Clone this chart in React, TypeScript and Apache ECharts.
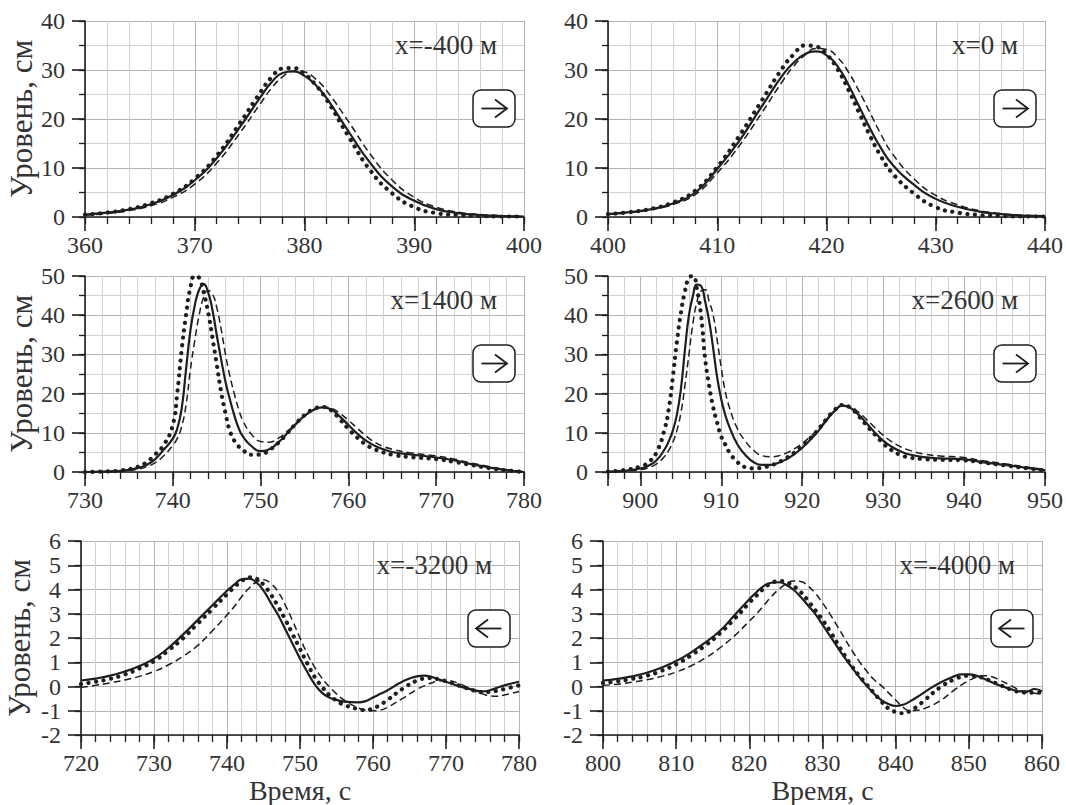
import React, { useEffect, useRef } from 'react';
import * as echarts from 'echarts';

// ---------- Panel 1: x = -400 м ----------
const p1Time = [360, 362, 364, 366, 368, 370, 372, 374, 376, 377, 378, 379, 380, 381, 382, 384, 386, 388, 390, 392, 394, 396, 398, 400];
const p1Solid = [0.5, 0.9, 1.5, 2.6, 4.5, 7.5, 12, 18, 24.5, 27.5, 29.4, 29.7, 28.8, 27, 24.3, 17.5, 11, 6.2, 3.3, 1.6, 0.8, 0.4, 0.2, 0.1];
const p1Dot = [0.5, 0.9, 1.6, 2.8, 4.7, 7.8, 12.5, 18.8, 25.5, 28.5, 30.3, 30.4, 29.2, 27, 24, 16.5, 9.5, 4.8, 2, 0.8, 0.4, 0.2, 0.1, 0.1];
const p1Dash = [0.4, 0.7, 1.3, 2.3, 4.0, 6.7, 11, 16.8, 23.2, 26.3, 28.6, 29.8, 29.6, 28.2, 25.8, 19.5, 12.8, 7.5, 4.0, 2.0, 1.0, 0.5, 0.25, 0.1];

// ---------- Panel 2: x = 0 м ----------
const p2Time = [400, 402, 404, 406, 408, 410, 412, 414, 416, 417, 418, 419, 420, 421, 422, 423, 424, 425, 426, 428, 430, 432, 434, 436, 438, 440];
const p2Solid = [0.6, 1.0, 1.6, 2.8, 5.0, 9.8, 15.5, 22.3, 29.0, 31.5, 33.2, 33.8, 33.0, 30.8, 27.0, 22.5, 18.0, 14.0, 10.8, 6.6, 3.7, 2.1, 1.1, 0.6, 0.3, 0.2];
const p2Dot = [0.6, 1.0, 1.7, 3.0, 5.4, 10.2, 16.5, 23.5, 30.5, 33.2, 35.0, 34.8, 33.2, 30.2, 26.0, 21.2, 16.5, 12.3, 9.0, 4.8, 2.0, 0.9, 0.4, 0.2, 0.1, 0.1];
const p2Dash = [0.5, 0.9, 1.5, 2.6, 4.6, 9.0, 14.5, 21.0, 27.8, 30.8, 33.0, 34.4, 34.2, 32.6, 29.6, 25.6, 21.2, 16.8, 13.0, 7.8, 4.4, 2.5, 1.3, 0.7, 0.35, 0.2];

// ---------- Panel 3: x = 1400 м ----------
const p3Time = [730, 732, 734, 736, 737, 738, 739, 740,
  740.5, 741, 741.5, 742, 742.5, 743, 743.5, 744, 744.5, 745, 745.5, 746, 746.5, 747, 747.5, 748,
  749, 750, 751, 752, 753, 754, 755, 756, 757, 758, 759, 760, 761, 762, 763, 764, 765,
  767, 770, 772, 774, 776, 778, 780];
const p3Solid = [0, 0.1, 0.3, 1.0, 1.8, 3.3, 5.8, 8.5,
  11, 16, 26, 36, 42.5, 46.5, 48, 46, 41.5, 35, 28.8, 23, 18.5, 14.5, 11.2, 9,
  6.5, 5.3, 5.8, 7.5, 9.8, 12.2, 14.3, 15.8, 16.5, 16, 14.2, 12, 9.8, 8, 6.7, 5.8, 5.1,
  4.5, 3.7, 3, 2, 1.2, 0.5, 0];
const p3Dot = [0, 0.1, 0.4, 1.3, 2.5, 4.5, 7, 12,
  20, 31, 40, 47, 50, 49.5, 46, 41, 34.5, 27.5, 20.5, 15, 10.5, 8, 6.5, 5.5,
  4.4, 4.5, 5.6, 7.4, 9.8, 12.3, 14.5, 16, 16.6, 15.8, 13.5, 11, 8.8, 7, 5.8, 5, 4.4,
  3.8, 3.3, 2.6, 1.8, 1.0, 0.4, 0];
const p3Dash = [0, 0.1, 0.2, 0.7, 1.3, 2.4, 4.2, 6.8,
  8.5, 11.5, 17, 26, 33.5, 40, 44.5, 46.3, 45.5, 42, 36.5, 30, 24.5, 20, 16, 13,
  9.5, 7.8, 7.6, 8.6, 10.3, 12.3, 14.3, 15.8, 16.6, 16.3, 15, 13.2, 11.2, 9.2, 7.6, 6.5, 5.8,
  4.9, 4.1, 3.3, 2.3, 1.4, 0.6, 0.1];

// ---------- Panel 4: x = 2600 м ----------
const p4Time = [896, 898, 900, 901, 902, 903,
  903.5, 904, 904.5, 905, 905.5, 906, 906.5, 907, 907.5, 908, 908.5, 909, 909.5, 910, 910.5,
  911, 912, 913, 914, 915, 916, 917, 918, 919, 920, 921, 922, 923, 924, 925, 926, 927, 928, 929, 930, 931, 932, 933,
  935, 937, 940, 942, 945, 948, 950];
const p4Solid = [0.1, 0.3, 0.9, 1.6, 3.0, 5.8,
  7.8, 10.5, 14.5, 21, 31, 40, 45, 47.8, 47.5, 43.5, 38.5, 31.5, 24, 18.5, 14.5,
  11.5, 7, 4.3, 2.5, 1.8, 1.8, 2.3, 3.2, 4.5, 6.2, 8.2, 10.5, 13.2, 15.6, 17, 16.3, 14.5, 12.3, 10, 8, 6.5, 5.4, 4.6,
  3.8, 3.5, 3.2, 2.6, 1.8, 1.0, 0.5];
const p4Dot = [0.1, 0.5, 1.4, 2.5, 5, 11,
  16, 24, 33, 40.5, 46, 49.5, 50, 46.5, 40, 29, 22, 16.5, 12.5, 9, 7,
  5, 2.5, 1.2, 0.9, 1.1, 1.6, 2.4, 3.5, 4.9, 6.6, 8.6, 10.9, 13.5, 15.8, 17.1, 16.3, 14.2, 11.8, 9.5, 7.3, 5.6, 4.5, 3.8,
  3.3, 3.1, 3.0, 2.5, 1.7, 0.9, 0.4];
const p4Dash = [0.05, 0.2, 0.6, 1.1, 2.1, 4,
  5.5, 7.5, 10.5, 15, 22, 30, 38, 43.5, 46.2, 46.5, 43.5, 40, 33.5, 26.5, 20.5,
  16.5, 11, 7.8, 5.5, 4.2, 3.9, 4.1, 4.8, 5.9, 7.3, 9, 11, 13.3, 15.5, 16.8, 16.5, 15.2, 13.3, 11.3, 9.4, 7.8, 6.6, 5.7,
  4.6, 4.1, 3.7, 3, 2.1, 1.2, 0.6];

// ---------- Panel 5: x = -3200 м ----------
const p5Time = [720, 722, 724, 726, 728, 730, 732, 734, 736, 738, 740,
  741, 742, 743, 744, 745, 746, 747, 748, 749, 750, 751, 752, 753, 754, 755, 756,
  758, 759, 760, 761, 762,
  764, 766, 767, 768, 769, 770,
  772, 774, 775, 776, 777, 778, 780];
const p5Solid = [0.25, 0.33, 0.45, 0.62, 0.85, 1.15, 1.6, 2.15, 2.75, 3.35, 3.95,
  4.2, 4.42, 4.45, 4.3, 3.95, 3.45, 2.95, 2.35, 1.75, 1.15, 0.6, 0.1, -0.25, -0.45, -0.55, -0.62,
  -0.65, -0.6, -0.45, -0.3, -0.15,
  0.2, 0.42, 0.45, 0.4, 0.3, 0.2,
  0, -0.15, -0.2, -0.15, -0.05, 0.05, 0.2];
const p5Dot = [0.1, 0.2, 0.32, 0.5, 0.75, 1.05, 1.5, 2.0, 2.6, 3.2, 3.8,
  4.1, 4.35, 4.5, 4.45, 4.2, 3.8, 3.3, 2.75, 2.15, 1.55, 0.95, 0.4, 0, -0.35, -0.58, -0.75,
  -0.93, -0.97, -0.9, -0.75, -0.55,
  -0.1, 0.25, 0.33, 0.35, 0.3, 0.22,
  0.02, -0.18, -0.23, -0.22, -0.17, -0.1, 0.05];
const p5Dash = [-0.03, 0.05, 0.15, 0.27, 0.42, 0.62, 0.9, 1.25, 1.7, 2.3, 2.95,
  3.3, 3.7, 4.05, 4.3, 4.4, 4.25, 3.9, 3.35, 2.7, 2.0, 1.35, 0.8, 0.35, 0, -0.3, -0.55,
  -0.88, -0.97, -1.0, -0.97, -0.85,
  -0.5, -0.12, 0.03, 0.15, 0.23, 0.25,
  0.1, -0.2, -0.3, -0.38, -0.4, -0.35, -0.2];

// ---------- Panel 6: x = -4000 м ----------
const p6Time = [800, 802, 804, 806, 808, 810, 812, 814, 816, 818, 820,
  821, 822, 823, 824, 825, 826, 827, 828, 829, 830, 831, 832, 833, 834, 835, 836, 837, 838, 839, 840, 841, 842, 843, 844,
  846, 848,
  849, 850, 851, 852, 853, 854,
  856, 857, 858, 859, 860];
const p6Solid = [0.25, 0.32, 0.42, 0.57, 0.78, 1.05, 1.4, 1.82, 2.3, 2.95, 3.6,
  3.9, 4.15, 4.28, 4.3, 4.2, 4.0, 3.7, 3.35, 3.0, 2.55, 2.1, 1.65, 1.2, 0.8, 0.4, 0.05, -0.28, -0.55, -0.72, -0.8, -0.75, -0.6, -0.42, -0.22,
  0.15, 0.42,
  0.5, 0.5, 0.45, 0.33, 0.2, 0.07,
  -0.13, -0.2, -0.2, -0.1, -0.2];
const p6Dot = [0.15, 0.22, 0.32, 0.45, 0.65, 0.92, 1.28, 1.7, 2.2, 2.8, 3.45,
  3.75, 4.05, 4.25, 4.35, 4.3, 4.15, 3.9, 3.55, 3.15, 2.75, 2.3, 1.8, 1.3, 0.85, 0.45, 0.1, -0.25, -0.6, -0.9, -1.05, -1.1, -1.0, -0.8, -0.55,
  -0.05, 0.3,
  0.4, 0.45, 0.43, 0.35, 0.23, 0.1,
  -0.15, -0.22, -0.25, -0.25, -0.25];
const p6Dash = [0.05, 0.1, 0.18, 0.28, 0.42, 0.6, 0.85, 1.18, 1.6, 2.1, 2.7,
  3.0, 3.35, 3.7, 4.0, 4.22, 4.35, 4.33, 4.15, 3.85, 3.45, 3.0, 2.5, 2.0, 1.5, 1.05, 0.65, 0.3, 0.05, -0.25, -0.55, -0.85, -1.0, -0.98, -0.9,
  -0.6, -0.15,
  0.07, 0.25, 0.38, 0.45, 0.42, 0.3,
  0.0, -0.15, -0.25, -0.28, -0.3];

// Panel titles and axis texts
const panelLabels = ['x=-400 м', 'x=0 м', 'x=1400 м', 'x=2600 м', 'x=-3200 м', 'x=-4000 м'];
const yTitle = 'Уровень, см';
const xTitle = 'Время, с';

const FONT = "'Liberation Serif', 'Times New Roman', serif";
const INK = '#1e1e1e';
const TXT = '#333';
const GRID_MINOR = '#d2d2d2';
const GRID_MAJOR = '#b4b4b4';

type Panel = {
  t: number[]; s: number[]; d: number[]; k: number[];
  x: [number, number]; y: [number, number]; yStep: [number, number];
  label: string; dir: 'right' | 'left';
  box: { left: number; top: number; width: number; height: number };
  yName: boolean; xName: boolean;
};

const panels: Panel[] = [
  { t: p1Time, s: p1Solid, d: p1Dot, k: p1Dash, x: [360, 400], y: [0, 40], yStep: [5, 10], label: panelLabels[0], dir: 'right', box: { left: 85, top: 21, width: 439, height: 196 }, yName: true, xName: false },
  { t: p2Time, s: p2Solid, d: p2Dot, k: p2Dash, x: [400, 440], y: [0, 40], yStep: [5, 10], label: panelLabels[1], dir: 'right', box: { left: 608, top: 21, width: 437, height: 196 }, yName: false, xName: false },
  { t: p3Time, s: p3Solid, d: p3Dot, k: p3Dash, x: [730, 780], y: [0, 50], yStep: [5, 10], label: panelLabels[2], dir: 'right', box: { left: 85, top: 276, width: 439, height: 196 }, yName: true, xName: false },
  { t: p4Time, s: p4Solid, d: p4Dot, k: p4Dash, x: [896, 950], y: [0, 50], yStep: [5, 10], label: panelLabels[3], dir: 'right', box: { left: 608, top: 276, width: 437, height: 196 }, yName: false, xName: false },
  { t: p5Time, s: p5Solid, d: p5Dot, k: p5Dash, x: [720, 780], y: [-2, 6], yStep: [1, 1], label: panelLabels[4], dir: 'left', box: { left: 81, top: 541, width: 438, height: 196 }, yName: true, xName: true },
  { t: p6Time, s: p6Solid, d: p6Dot, k: p6Dash, x: [800, 860], y: [-2, 6], yStep: [1, 1], label: panelLabels[5], dir: 'left', box: { left: 603, top: 541, width: 439, height: 196 }, yName: false, xName: true },
];

function buildOption() {
  const grid: any[] = [];
  const xAxis: any[] = [];
  const yAxis: any[] = [];
  const series: any[] = [];
  const graphic: any[] = [];

  panels.forEach((p, i) => {
    grid.push({ left: p.box.left, top: p.box.top, width: p.box.width, height: p.box.height, containLabel: false });

    const majors: number[] = [];
    for (let v = Math.ceil(p.x[0] / 10) * 10; v <= p.x[1] + 1e-9; v += 10) majors.push(v);
    const tickVals = majors[0] > p.x[0] ? [p.x[0], ...majors] : majors;

    const xBase = { type: 'value', gridIndex: i, min: p.x[0], max: p.x[1], position: 'bottom', offset: 0 };
    // minor ticks + minor grid
    xAxis.push({ ...xBase, interval: 2, z: 1,
      axisLine: { show: false, onZero: false },
      axisTick: { show: true, length: 7, lineStyle: { color: INK, width: 1.3 } },
      axisLabel: { show: false }, splitLine: { show: true, lineStyle: { color: GRID_MINOR, width: 1 } } });
    // major grid
    xAxis.push({ ...xBase, interval: 2, z: 1,
      axisLine: { show: false, onZero: false },
      axisTick: { show: false, customValues: majors },
      axisLabel: { show: false, customValues: majors },
      splitLine: { show: true, lineStyle: { color: GRID_MAJOR, width: 1 } } });
    // axis line, long ticks, labels
    xAxis.push({ ...xBase, interval: 2, z: 3,
      axisLine: { show: true, onZero: false, lineStyle: { color: INK, width: 1.6 } },
      axisTick: { show: true, length: 14, customValues: tickVals, lineStyle: { color: INK, width: 1.6 } },
      axisLabel: { show: true, margin: 16, fontSize: 24, fontFamily: FONT, color: TXT, customValues: majors,
        formatter: (v: number) => String(v) },
      splitLine: { show: false },
      name: p.xName ? xTitle : '', nameLocation: 'middle', nameGap: 40,
      nameTextStyle: { fontSize: 28, fontFamily: FONT, color: TXT } });

    const yBase = { type: 'value', gridIndex: i, min: p.y[0], max: p.y[1], position: 'left', offset: 0 };
    yAxis.push({ ...yBase, interval: p.yStep[0], z: 1,
      axisLine: { show: false, onZero: false },
      axisTick: { show: true, length: 6, lineStyle: { color: INK, width: 1.3 } },
      axisLabel: { show: false }, splitLine: { show: true, lineStyle: { color: GRID_MINOR, width: 1 } } });
    yAxis.push({ ...yBase, interval: p.yStep[1], z: 1,
      axisLine: { show: false, onZero: false }, axisTick: { show: false }, axisLabel: { show: false },
      splitLine: { show: true, lineStyle: { color: GRID_MAJOR, width: 1 } } });
    yAxis.push({ ...yBase, interval: p.yStep[1], z: 3,
      axisLine: { show: true, onZero: false, lineStyle: { color: INK, width: 1.6 } },
      axisTick: { show: true, length: 13, lineStyle: { color: INK, width: 1.6 } },
      axisLabel: { show: true, margin: 20, fontSize: 24, fontFamily: FONT, color: TXT },
      splitLine: { show: false },
      name: p.yName ? yTitle : '', nameLocation: 'middle', nameGap: 46, nameRotate: 90,
      nameTextStyle: { fontSize: 31, fontFamily: FONT, color: TXT } });

    const ax = i * 3;
    const mk = (vals: number[]) => p.t.map((t, j) => [t, vals[j]]);
    const common = { type: 'line', xAxisIndex: ax, yAxisIndex: ax, showSymbol: false, symbol: 'none', smooth: 0.5, silent: true, z: 2 };
    series.push({ ...common, name: 'dash' + i, data: mk(p.k), lineStyle: { color: INK, width: 1.5, type: [7, 4] } });
    series.push({ ...common, name: 'dot' + i, data: mk(p.d), lineStyle: { color: INK, width: 4.2, type: [0.1, 7.5], cap: 'round' } });
    series.push({ ...common, name: 'solid' + i, data: mk(p.s), lineStyle: { color: INK, width: 2.2 } });

    // annotations
    const right = p.box.left + p.box.width;
    graphic.push({ type: 'text', z: 20, x: right - 27, y: p.box.top + 24,
      style: { text: p.label, fontSize: 27, fontFamily: FONT, fill: TXT, align: 'right', verticalAlign: 'middle', textAlign: 'right', textVerticalAlign: 'middle' } });
    const bw = 42, bh = 37;
    const bx = right - 9 - bw, by = p.box.top + 69;
    const cy = by + bh / 2;
    graphic.push({ type: 'rect', z: 20, shape: { x: bx, y: by, width: bw, height: bh, r: 8 }, style: { fill: '#fff', stroke: INK, lineWidth: 1.5 } });
    graphic.push({ type: 'line', z: 21, shape: { x1: bx + 8.5, y1: cy, x2: bx + 33.5, y2: cy }, style: { stroke: INK, lineWidth: 1.8 } });
    const pts = p.dir === 'right'
      ? [[bx + 22, cy - 9], [bx + 34, cy], [bx + 22, cy + 9]]
      : [[bx + 20, cy - 9], [bx + 8, cy], [bx + 20, cy + 9]];
    graphic.push({ type: 'polyline', z: 21, shape: { points: pts }, style: { stroke: INK, lineWidth: 1.8, fill: 'none' } });
  });

  return { animation: false, backgroundColor: '#fff', grid, xAxis, yAxis, series, graphic };
}

export default function App() {
  const ref = useRef<HTMLDivElement>(null);
  useEffect(() => {
    if (!ref.current) return;
    const chart = echarts.init(ref.current, null, { renderer: 'svg' });
    chart.setOption(buildOption() as any);
    return () => chart.dispose();
  }, []);
  return <div ref={ref} style={{ position: 'absolute', left: 0, top: 0, width: 1066, height: 805, background: '#fff' }} />;
}
